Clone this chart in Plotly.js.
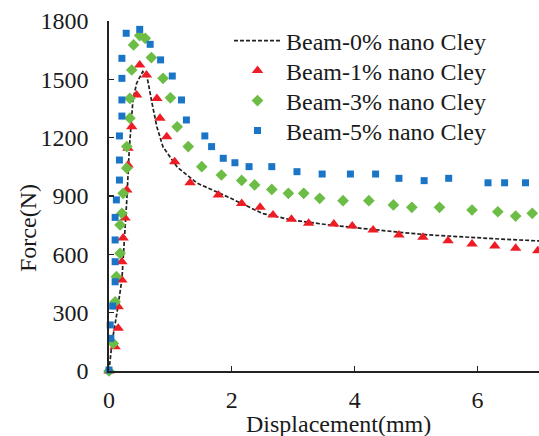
<!DOCTYPE html>
<html>
<head>
<meta charset="utf-8">
<script src="https://cdn.plot.ly/plotly-3.0.1.min.js"></script>
<style>html,body{margin:0;padding:0;background:#fff;}#chart{width:539px;height:436px;}</style>
</head>
<body>
<div id="chart"></div>
<script>
// Beam-0% nano Cley (dashed line)
var x0 = [0, 0.05, 0.13, 0.21, 0.29, 0.33, 0.39, 0.45, 0.55, 0.62, 0.70, 0.78, 0.88, 1.11, 1.43, 1.69, 1.97, 2.5, 3.0, 3.59, 4.2, 4.68, 5.2, 5.76, 6.4, 7.0];
var y0 = [0, 150, 300, 470, 880, 1140, 1395, 1480, 1540, 1512, 1378, 1255, 1152, 1049, 967, 931, 890, 810, 775, 751, 730, 715, 700, 689, 678, 669];
// Beam-1% nano Cley (red triangles)
var x1 = [0, 0.10, 0.15, 0.15, 0.21, 0.21, 0.23, 0.26, 0.29, 0.31, 0.31, 0.37, 0.45, 0.50, 0.61, 0.78, 0.83, 0.94, 1.07, 1.32, 1.78, 2.16, 2.46, 2.67, 2.97, 3.25, 3.66, 3.96, 4.30, 4.72, 5.11, 5.52, 5.91, 6.28, 6.62, 6.98];
var y1 = [0, 125, 220, 331, 468, 562, 684, 787, 931, 1059, 1145, 1256, 1420, 1574, 1522, 1402, 1300, 1205, 1076, 968, 905, 862, 842, 802, 780, 760, 756, 746, 725, 700, 688, 670, 653, 643, 631, 619];
// Beam-3% nano Cley (green diamonds)
var x3 = [0, 0.07, 0.10, 0.12, 0.18, 0.18, 0.21, 0.23, 0.29, 0.29, 0.34, 0.34, 0.37, 0.40, 0.50, 0.59, 0.69, 0.88, 1.00, 1.11, 1.29, 1.51, 1.83, 2.16, 2.37, 2.65, 2.92, 3.17, 3.43, 3.81, 4.23, 4.63, 4.93, 5.38, 5.91, 6.33, 6.62, 6.89];
var y3 = [0, 142, 356, 485, 605, 751, 811, 914, 1043, 1154, 1300, 1402, 1548, 1677, 1725, 1711, 1612, 1505, 1405, 1256, 1154, 1051, 1008, 980, 957, 934, 914, 914, 888, 876, 876, 854, 842, 842, 828, 819, 797, 811];
// Beam-5% nano Cley (blue squares)
var x5 = [0, 0.03, 0.02, 0.06, 0.10, 0.10, 0.10, 0.10, 0.12, 0.17, 0.17, 0.17, 0.21, 0.21, 0.21, 0.21, 0.28, 0.31, 0.50, 0.67, 0.84, 1.03, 1.18, 1.26, 1.56, 1.67, 1.86, 2.05, 2.28, 2.65, 3.06, 3.47, 3.93, 4.34, 4.72, 5.13, 5.53, 6.17, 6.44, 6.78];
var y5 = [5, 168, 237, 334, 459, 562, 674, 790, 880, 982, 1085, 1209, 1311, 1394, 1505, 1608, 1737, 1805, 1757, 1680, 1600, 1517, 1394, 1291, 1209, 1154, 1094, 1071, 1051, 1051, 1025, 1013, 1013, 1013, 991, 979, 991, 968, 968, 968];

var seriesNames = ["Beam-0% nano Cley", "Beam-1% nano Cley", "Beam-3% nano Cley", "Beam-5% nano Cley"];
var yTicks = [0, 300, 600, 900, 1200, 1500, 1800];
var xTicks = [0, 2, 4, 6];

var serif = "'Liberation Serif', 'Times New Roman', serif";
var ink = "#1a1a1a";

var traces = [
  {x: x0, y: y0, name: seriesNames[0], mode: "lines", type: "scatter", legend: "legend",
   line: {color: "#222", width: 1.7, dash: "4px,2px"}},
  {x: x1, y: y1, name: seriesNames[1], mode: "markers", type: "scatter", legend: "legend2", cliponaxis: false,
   marker: {symbol: "triangle-up", size: 10, color: "#ee1c24"}},
  {x: x3, y: y3, name: seriesNames[2], mode: "markers", type: "scatter", legend: "legend3", cliponaxis: false,
   marker: {symbol: "diamond", size: 9, color: "#6cbd45"}},
  {x: x5, y: y5, name: seriesNames[3], mode: "markers", type: "scatter", legend: "legend4", cliponaxis: false,
   marker: {symbol: "square", size: 7, color: "#1b75c7"}}
];

function leg(rowPx) {
  return {x: (229 - 109) / 430, xanchor: "left", y: (371 - rowPx) / 350, yanchor: "middle",
          bgcolor: "rgba(0,0,0,0)", borderwidth: 0,
          font: {family: serif, size: 24, color: ink}, itemwidth: 47};
}

var layout = {
  width: 539, height: 436,
  margin: {l: 109, r: 0, t: 21, b: 65},
  paper_bgcolor: "#fff", plot_bgcolor: "#fff",
  font: {family: serif, size: 24, color: ink},
  showlegend: true,
  legend: leg(41), legend2: leg(71), legend3: leg(101), legend4: leg(131),
  xaxis: {range: [0, 7.0], tickvals: xTicks, ticktext: xTicks.map(String),
          ticks: "inside", ticklen: 5, tickwidth: 1.2, tickcolor: "#222",
          showline: true, linecolor: "#222", linewidth: 1.6, showgrid: false, zeroline: false,
          tickfont: {family: serif, size: 24, color: ink}, ticklabelstandoff: 7},
  yaxis: {range: [0, 1800], tickvals: yTicks, ticktext: yTicks.map(String),
          ticks: "inside", ticklen: 5, tickwidth: 1.2, tickcolor: "#222",
          showline: true, linecolor: "#222", linewidth: 1.6, showgrid: false, zeroline: false,
          tickfont: {family: serif, size: 24, color: ink}, ticklabelstandoff: 14},
  annotations: [
    {text: "Displacement(mm)", xref: "paper", yref: "paper", x: (338 - 109) / 430, y: -53 / 350,
     xanchor: "center", yanchor: "middle", showarrow: false, font: {family: serif, size: 24, color: ink}},
    {text: "Force(N)", xref: "paper", yref: "paper", x: (28 - 109) / 430, y: (371 - 228) / 350,
     xanchor: "center", yanchor: "middle", showarrow: false, textangle: -90, font: {family: serif, size: 24, color: ink}}
  ]
};

Plotly.newPlot("chart", traces, layout, {displayModeBar: false, staticPlot: true});
</script>
</body>
</html>
